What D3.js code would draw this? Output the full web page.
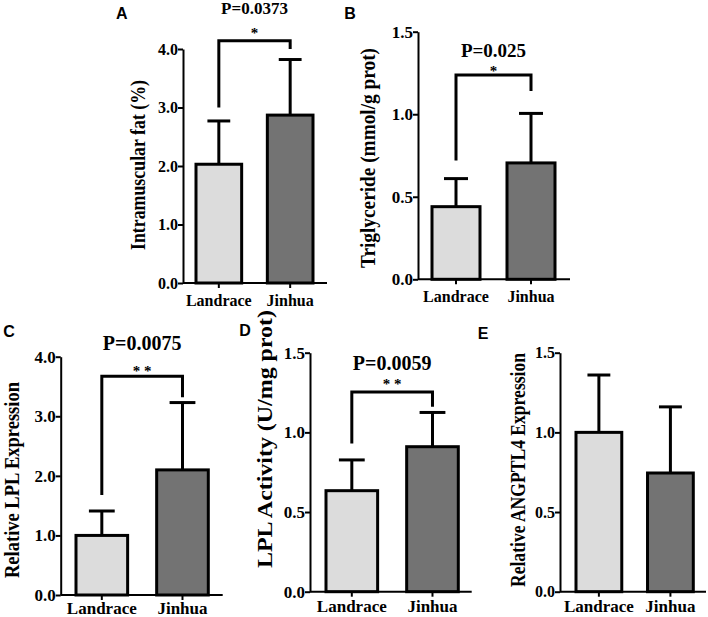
<!DOCTYPE html>
<html>
<head>
<meta charset="utf-8">
<script src="https://cdn.jsdelivr.net/npm/d3@7"></script>
<style>
  html, body { margin: 0; padding: 0; background: #fff; }
  svg { display: block; }
</style>
</head>
<body>
<svg id="chart" width="708" height="617"></svg>
<script>
// ---------- data ----------
const groups = ["Landrace", "Jinhua"];
const imfMean = [2.03, 2.87];
const imfSD = [0.74, 0.95];
const tgMean = [0.44, 0.705];
const tgSD = [0.17, 0.30];
const lplExpMean = [1.0, 2.1];
const lplExpSD = [0.41, 1.13];
const lplActMean = [0.634, 0.91];
const lplActSD = [0.193, 0.215];
const angMean = [1.0, 0.745];
const angSD = [0.36, 0.415];
const ticksA = [0.0, 1.0, 2.0, 3.0, 4.0];
const ticksB = [0.0, 0.5, 1.0, 1.5];
const panelLetters = ["A", "B", "C", "D", "E"];
const yTitles = ["Intramuscular fat (%)", "Triglyceride (mmol/g prot)", "Relative LPL Expression", "LPL Activity (U/mg prot)", "Relative ANGPTL4 Expression"];
const pLabels = ["P=0.0373", "P=0.025", "P=0.0075", "P=0.0059", null];
const stars = ["*", "*", "* *", "* *", null];
const bracketTop = [4.14, 1.238, 3.67, 1.254, null];
const bracketLeftEnd = [3.0, 0.72, 1.68, 0.93, null];
const bracketRightEnd = [4.0, 1.14, 3.32, 1.16, null];
const fills = ["#dcdcdc", "#737373"];

// ---------- layout (pixels) ----------
const layout = [
  {means: imfMean, sds: imfSD, ticks: ticksA, max: 4, ax: 183, axEnd: 327, bl: 196, br: 313, y0: 283, yTop: 49,
   letter: [121.7, 13], tickFs: 16, xFs: 16, xLabY: 301, title: [138, 165, 170, 20], pFs: 17, pY: 8, starY: 30},
  {means: tgMean, sds: tgSD, ticks: ticksB, max: 1.5, ax: 418, axEnd: 570, bl: 432, br: 555, y0: 279.3, yTop: 31.7,
   letter: [350, 13], tickFs: 17, xFs: 16, xLabY: 297, title: [368, 158, 220, 20], pFs: 19, pY: 50, starY: 68},
  {means: lplExpMean, sds: lplExpSD, ticks: ticksA, max: 4, ax: 60.7, axEnd: 222.7, bl: 76, br: 208.3, y0: 595, yTop: 356.7,
   letter: [9, 331.7], tickFs: 17, xFs: 17, xLabY: 608, title: [12, 480, 196, 21], pFs: 20, pY: 343, starY: 368},
  {means: lplActMean, sds: lplActSD, ticks: ticksB, max: 1.5, ax: 310, axEnd: 471.7, bl: 326, br: 458.3, y0: 591.7, yTop: 352.7,
   letter: [245, 330], tickFs: 17, xFs: 17, xLabY: 606, title: [265, 439, 258, 20], pFs: 20, pY: 362.7, starY: 381.7},
  {means: angMean, sds: angSD, ticks: ticksB, max: 1.5, ax: 560, axEnd: 706, bl: 576, br: 693.3, y0: 591.7, yTop: 352.7,
   letter: [483, 333], tickFs: 16, xFs: 17, xLabY: 606, title: [518, 470, 234, 20], pFs: 20, pY: 0, starY: 0}
];

const SERIF = "'Liberation Serif', 'Times New Roman', serif";
const svg = d3.select("#chart");
const fmt = d3.format(".1f");

function serif(sel, fs) {
  return sel.style("font-family", SERIF).style("font-weight", "bold").style("font-size", fs + "px").attr("fill", "#000");
}

layout.forEach((L, i) => {
  const g = svg.append("g");
  const x = d3.scaleBand().domain(groups).range([L.bl, L.br]).paddingInner(0.36).paddingOuter(0);
  const y = d3.scaleLinear().domain([0, L.max]).range([L.y0, L.yTop]);

  // panel letter
  g.append("text").attr("x", L.letter[0]).attr("y", L.letter[1]).attr("dy", "0.35em")
    .attr("text-anchor", "middle")
    .style("font-family", "'Liberation Sans', Arial, sans-serif").style("font-weight", "bold")
    .style("font-size", "16px").text(panelLetters[i]);

  const data = groups.map((k, j) => ({k, m: L.means[j], s: L.sds[j], fill: fills[j]}));
  // error bars (upper only)
  const eb = g.append("g").attr("stroke", "#000").attr("stroke-width", 3).attr("fill", "none");
  data.forEach(d => {
    const cx = x(d.k) + x.bandwidth() / 2;
    eb.append("line").attr("x1", cx).attr("x2", cx).attr("y1", y(d.m)).attr("y2", y(d.m + d.s));
    eb.append("line").attr("x1", cx - x.bandwidth() / 4).attr("x2", cx + x.bandwidth() / 4)
      .attr("y1", y(d.m + d.s)).attr("y2", y(d.m + d.s));
  });
  g.selectAll("rect.bar").data(data).enter().append("rect").attr("class", "bar")
    .attr("x", d => x(d.k)).attr("width", x.bandwidth())
    .attr("y", d => y(d.m)).attr("height", d => y(0) - y(d.m))
    .attr("fill", d => d.fill).attr("stroke", "#000").attr("stroke-width", 3);

  // y axis
  const yAxis = d3.axisLeft(y).tickValues(L.ticks).tickFormat(fmt).tickSize(5).tickPadding(0).tickSizeOuter(0);
  const ya = g.append("g").attr("transform", `translate(${L.ax},0)`).call(yAxis);
  ya.attr("font-family", null).attr("font-size", null);
  ya.select(".domain").attr("stroke", "#000").attr("stroke-width", 2);
  ya.selectAll(".tick line").attr("stroke", "#000").attr("stroke-width", 2);
  serif(ya.selectAll(".tick text"), L.tickFs);

  // x axis
  const xAxis = d3.axisBottom(x).tickSize(5).tickSizeOuter(0).tickFormat("");
  const xa = g.append("g").attr("transform", `translate(0,${L.y0})`).call(xAxis);
  xa.select(".domain").remove();
  xa.append("line").attr("x1", L.ax).attr("x2", L.axEnd).attr("y1", 0).attr("y2", 0)
    .attr("stroke", "#000").attr("stroke-width", 2);
  xa.selectAll(".tick line").attr("stroke", "#000").attr("stroke-width", 2);
  groups.forEach(k => {
    serif(g.append("text"), L.xFs).attr("x", x(k) + x.bandwidth() / 2).attr("y", L.xLabY)
      .attr("dy", "0.33em").attr("text-anchor", "middle").text(k);
  });

  // y title
  const [tx, ty, tl, tfs] = L.title;
  serif(g.append("text"), tfs)
    .attr("transform", `translate(${tx + tfs * 0.33},${ty}) rotate(-90)`)
    .attr("text-anchor", "middle")
    .attr("textLength", tl).attr("lengthAdjust", "spacingAndGlyphs")
    .text(yTitles[i]);

  // significance bracket
  if (pLabels[i]) {
    const c0 = x(groups[0]) + x.bandwidth() / 2, c1 = x(groups[1]) + x.bandwidth() / 2;
    g.append("path").attr("fill", "none").attr("stroke", "#000").attr("stroke-width", 3)
      .attr("d", `M${c0},${y(bracketLeftEnd[i])}V${y(bracketTop[i])}H${c1}V${y(bracketRightEnd[i])}`);
    serif(g.append("text"), 15).attr("x", (c0 + c1) / 2).attr("y", L.starY)
      .attr("dy", "0.5em").attr("text-anchor", "middle").text(stars[i]);
    serif(g.append("text"), L.pFs).attr("x", (c0 + c1) / 2).attr("y", L.pY)
      .attr("dy", "0.35em").attr("text-anchor", "middle").text(pLabels[i]);
  }
});
</script>
</body>
</html>
